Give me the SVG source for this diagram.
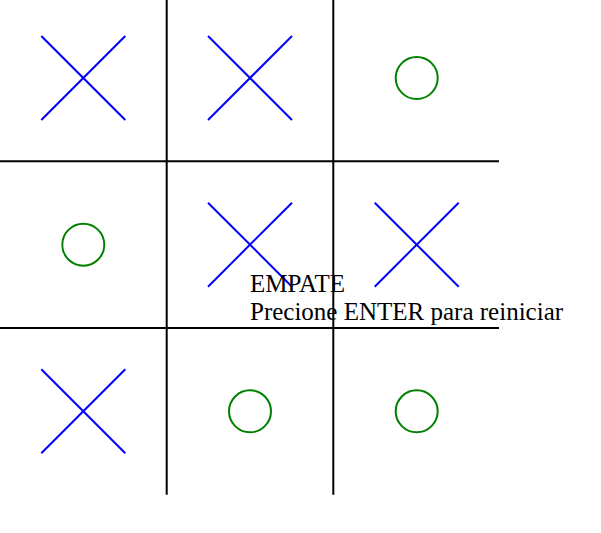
<svg xmlns="http://www.w3.org/2000/svg" width="601" height="533" viewBox="0 0 601 533">
<style>
.grid{stroke:#000;stroke-width:2}
.x{stroke:#0000ff;stroke-width:2}
.o{stroke:#008000;stroke-width:2;fill:none}
.t{font-family:"Liberation Serif",serif;font-size:25px;fill:#000}
</style>
<rect width="601" height="533" fill="#fff"/>
<g id="grid">
<line class="grid" x1="166.7" y1="0" x2="166.7" y2="494.7"/>
<line class="grid" x1="333.3" y1="0" x2="333.3" y2="494.7"/>
<line class="grid" x1="0" y1="161.3" x2="499" y2="161.3"/>
<line class="grid" x1="0" y1="328" x2="499" y2="328"/>
</g>
<g id="c00"><line class="x" x1="41.3" y1="36" x2="125.3" y2="120"/><line class="x" x1="125.3" y1="36" x2="41.3" y2="120"/></g>
<g id="c01"><line class="x" x1="208" y1="36" x2="292" y2="120"/><line class="x" x1="292" y1="36" x2="208" y2="120"/></g>
<g id="c02"><circle class="o" cx="416.7" cy="78" r="21"/></g>
<g id="c10"><circle class="o" cx="83.3" cy="244.7" r="21"/></g>
<g id="c11"><line class="x" x1="208" y1="202.7" x2="292" y2="286.7"/><line class="x" x1="292" y1="202.7" x2="208" y2="286.7"/></g>
<g id="c12"><line class="x" x1="374.7" y1="202.7" x2="458.7" y2="286.7"/><line class="x" x1="458.7" y1="202.7" x2="374.7" y2="286.7"/></g>
<g id="c20"><line class="x" x1="41.3" y1="369.3" x2="125.3" y2="453.3"/><line class="x" x1="125.3" y1="369.3" x2="41.3" y2="453.3"/></g>
<g id="c21"><circle class="o" cx="250" cy="411.3" r="21"/></g>
<g id="c22"><circle class="o" cx="416.7" cy="411.3" r="21"/></g>
<g id="message">
<text class="t" x="250" y="291.5">EMPATE</text>
<text class="t" x="250" y="319.5">Precione ENTER para reiniciar</text>
</g>
</svg>
